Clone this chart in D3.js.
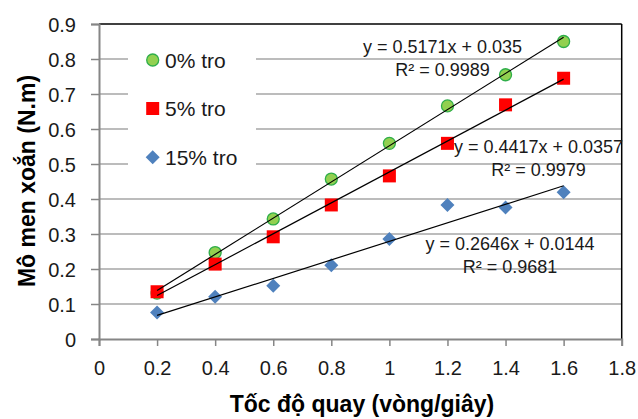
<!DOCTYPE html>
<html>
<head>
<meta charset="utf-8">
<title>Mô men xoắn</title>
<script src="https://d3js.org/d3.v7.min.js"></script>
<style>
  html, body { margin:0; padding:0; background:#fff; }
  svg { display:block; font-family:"Liberation Sans", Arial, sans-serif; }
</style>
</head>
<body>
<div id="chart"></div>
<script>
// data
var speeds = [0.2, 0.4, 0.6, 0.8, 1.0, 1.2, 1.4, 1.6];
var seriesNames = ['0% tro', '5% tro', '15% tro'];
var ash0 = [0.131, 0.247, 0.343, 0.457, 0.559, 0.666, 0.755, 0.850];
var ash5 = [0.135, 0.214, 0.292, 0.383, 0.466, 0.559, 0.669, 0.745];
var ash15 = [0.076, 0.121, 0.152, 0.211, 0.286, 0.383, 0.376, 0.419];
var slopes = [0.5171, 0.4417, 0.2646];
var intercepts = [0.035, 0.0357, 0.0144];
var eqLabels = ['y = 0.5171x + 0.035', 'y = 0.4417x + 0.0357', 'y = 0.2646x + 0.0144'];
var r2Labels = ['R² = 0.9989', 'R² = 0.9979', 'R² = 0.9681'];
var xTicks = [0, 0.2, 0.4, 0.6, 0.8, 1, 1.2, 1.4, 1.6, 1.8];
var yTicks = [0, 0.1, 0.2, 0.3, 0.4, 0.5, 0.6, 0.7, 0.8, 0.9];

var W = 638, H = 419;
// plot area edges (not called "top": that name belongs to window)
var pLeft = 99, pRight = 621.7, pTop = 24, pBottom = 339;

var svg = d3.select('#chart').append('svg')
    .attr('width', W).attr('height', H);

var x = d3.scaleLinear().domain([0, 1.8]).range([pLeft, pRight]);
var y = d3.scaleLinear().domain([0, 0.9]).range([pBottom, pTop]);

// gridlines
svg.append('g').selectAll('line')
    .data(yTicks.filter(function(d){ return d > 0 && d < 0.9; }))
    .enter().append('line')
    .attr('x1', pLeft).attr('x2', pRight)
    .attr('y1', function(d){ return y(d); })
    .attr('y2', function(d){ return y(d); })
    .attr('stroke', '#a6a6a6').attr('stroke-width', 1.5);

// legend box (white, covers gridlines)
svg.append('rect')
    .attr('x', 128).attr('y', 32).attr('width', 128).attr('height', 156)
    .attr('fill', '#fff');

// frame top/right
svg.append('line').attr('x1', pLeft).attr('x2', pRight).attr('y1', pTop).attr('y2', pTop)
    .attr('stroke', '#000').attr('stroke-width', 1.3);
svg.append('line').attr('x1', pRight).attr('x2', pRight).attr('y1', pTop).attr('y2', pBottom)
    .attr('stroke', '#000').attr('stroke-width', 1.5);

// axes
var yAxis = d3.axisLeft(y).tickValues(yTicks).tickSize(8).tickPadding(15)
    .tickFormat(function(d){ return d === 0 ? '0' : d3.format('.1f')(d); });
var gy = svg.append('g').attr('transform', 'translate(' + pLeft + ',0)').call(yAxis);
var xAxis = d3.axisBottom(x).tickValues(xTicks).tickSize(7).tickPadding(15)
    .tickFormat(function(d){ return d === 0 || d === 1 ? String(d) : d3.format('.1f')(d); });
var gx = svg.append('g').attr('transform', 'translate(0,' + pBottom + ')').call(xAxis);

[gx, gy].forEach(function(g){
    g.select('.domain').attr('stroke', '#868686').attr('stroke-width', 2);
    g.selectAll('.tick line').attr('stroke', '#868686').attr('stroke-width', 1.5);
    g.selectAll('.tick text').attr('fill', '#1a1a1a')
        .style('font-size', '20px').style('font-family', '"Liberation Sans", Arial, sans-serif');
});
gy.selectAll('.tick text').attr('dy', '0.35em');

// markers
var allSeries = [ash0, ash5, ash15];
function drawMarker(g, k, cx, cy) {
    if (k === 0) {
        g.append('circle').attr('cx', cx).attr('cy', cy).attr('r', 6)
            .attr('fill', '#92d050').attr('stroke', '#2fae4a').attr('stroke-width', 1.3);
    } else if (k === 1) {
        g.append('rect').attr('x', cx - 6.5).attr('y', cy - 6.5)
            .attr('width', 13).attr('height', 13).attr('fill', '#ff0000');
    } else {
        g.append('path').attr('d', 'M' + cx + ',' + (cy - 7) + 'L' + (cx + 7) + ',' + cy +
            'L' + cx + ',' + (cy + 7) + 'L' + (cx - 7) + ',' + cy + 'Z')
            .attr('fill', '#4f81bd');
    }
}
var gm = svg.append('g');
allSeries.forEach(function(vals, k){
    vals.forEach(function(v, i){
        drawMarker(gm, k, x(speeds[i]), y(v));
    });
});

// linear trendlines
var line = d3.line().x(function(d){ return x(d[0]); }).y(function(d){ return y(d[1]); });
slopes.forEach(function(m, k){
    var x0 = speeds[0], x1 = speeds[speeds.length - 1];
    svg.append('path')
        .attr('d', line([[x0, m * x0 + intercepts[k]], [x1, m * x1 + intercepts[k]]]))
        .attr('stroke', '#000').attr('stroke-width', 1.2).attr('fill', 'none');
});

// trendline equations
var eqPos = [[442.5, 53], [538.5, 153], [510, 250]];
eqLabels.forEach(function(t, k){
    var g = svg.append('g').style('font-size', '18px').attr('fill', '#1a1a1a')
        .attr('text-anchor', 'middle');
    g.append('text').attr('x', eqPos[k][0]).attr('y', eqPos[k][1]).text(t);
    g.append('text').attr('x', eqPos[k][0]).attr('y', eqPos[k][1] + 23).text(r2Labels[k]);
});

// legend
var legY = [60, 108.5, 157.3];
seriesNames.forEach(function(name, k){
    drawMarker(svg, k, 152.7, legY[k]);
    svg.append('text').attr('x', 165).attr('y', legY[k] + 7.5)
        .style('font-size', '21px').attr('fill', '#1a1a1a').text(name);
});

// axis titles
svg.append('text')
    .attr('x', 362).attr('y', 412)
    .attr('text-anchor', 'middle')
    .style('font-size', '23px').style('font-weight', 'bold')
    .text('Tốc độ quay (vòng/giây)');
svg.append('text')
    .attr('transform', 'translate(35,181) rotate(-90)')
    .attr('text-anchor', 'middle')
    .style('font-size', '23px').style('font-weight', 'bold')
    .text('Mô men xoắn (N.m)');
</script>
</body>
</html>
